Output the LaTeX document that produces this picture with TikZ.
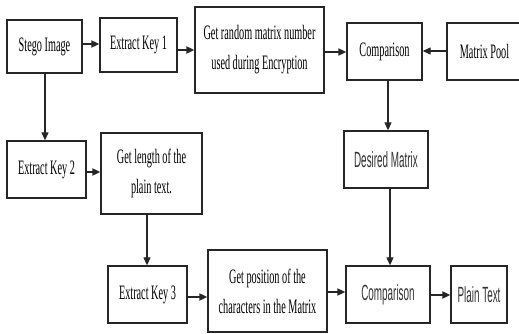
\documentclass[tikz,border=0pt]{standalone}
\usepackage{fontspec}
\usepackage{tikz}
\usetikzlibrary{arrows.meta, positioning}
\newfontfamily\boxserif[FakeStretch=0.5]{Liberation Serif}
\newfontfamily\boxsans[FakeStretch=0.45]{Liberation Sans}
\tikzset{
	stepbox/.style={rectangle, draw=black!85, line width=1.3pt, inner sep=0pt, align=center,
		font=\boxserif\fontsize{20.5}{30}\selectfont},
	sansbox/.style={stepbox, text=black!80, font=\boxsans\fontsize{22}{30}\selectfont},
	flow/.style={-{Triangle[length=8pt, width=7pt]}, line width=1.1pt, draw=black!85},
	flow thick/.style={flow, line width=1.8pt}
}
\begin{document}
\begin{tikzpicture}[x=1pt, y=-1pt]
		\useasboundingbox (0,0) rectangle (519,334);
		
		% Top row
		\node[stepbox, minimum width=75pt, minimum height=53pt] (Stego) at (44.5,46.5) {Stego Image};
		\node[stepbox, minimum width=77pt, minimum height=54pt] (Key1) at (138.5,45) {Extract Key 1};
		\node[stepbox, minimum width=129pt, minimum height=86pt] (Rand) at (259.5,50) {Get random matrix number\\used during Encryption};
		\node[stepbox, minimum width=75pt, minimum height=57pt] (Comp1) at (384.5,51.5) {Comparison};
		\node[stepbox, minimum width=75pt, minimum height=57pt] (Pool) at (484.5,51.5) {Matrix Pool};
		
		% Middle row
		\node[stepbox, minimum width=79pt, minimum height=57pt] (Key2) at (46.5,169.5) {Extract Key 2};
		\node[stepbox, minimum width=101pt, minimum height=81pt] (Len) at (151.5,173.5) {Get length of the\\plain text.};
		\node[sansbox, minimum width=84pt, minimum height=57pt] (Desired) at (386,159.5) {Desired Matrix};
		
		% Bottom row
		\node[stepbox, minimum width=79pt, minimum height=57pt] (Key3) at (147.5,294.5) {Extract Key 3};
		\node[stepbox, minimum width=119pt, minimum height=82pt] (Pos) at (267.5,291) {Get position of the\\characters in the Matrix};
		\node[sansbox, minimum width=84pt, minimum height=57pt] (Comp2) at (388,294.5) {Comparison};
		\node[sansbox, minimum width=56pt, minimum height=57pt] (Plain) at (479,294.5) {Plain Text};
		
		% Edges
		\draw[flow thick] (Stego.east |- 0,44) -- (Key1.west |- 0,44);      % Stego -> Key 1
		\draw[flow thick] (Key1.east |- 0,50) -- (Rand.west |- 0,50);       % Key 1 -> random matrix
		\draw[flow thick] (Rand.east |- 0,52) -- (Comp1.west |- 0,52);      % random matrix -> Comparison
		\draw[flow] (Pool.west |- 0,51) -- (Comp1.east |- 0,51);            % Pool -> Comparison
		\draw[flow] (Comp1.south -| 388,0) -- (Desired.north -| 388,0);     % Comparison -> Desired
		\draw[flow] (Desired.south -| 390,0) -- (Comp2.north -| 390,0);     % Desired -> Comparison
		
		\draw[flow] (Stego.south -| 45,0) -- (Key2.north -| 45,0);          % Stego -> Key 2
		\draw[flow thick] (Key2.east |- 0,172) -- (Len.west |- 0,172);      % Key 2 -> length
		\draw[flow] (Len.south -| 147,0) -- (Key3.north -| 147,0);          % length -> Key 3
		
		\draw[flow thick] (Key3.east |- 0,297) -- (Pos.west |- 0,297);      % Key 3 -> position
		\draw[flow thick] (Pos.east |- 0,292) -- (Comp2.west |- 0,292);     % position -> Comparison
		\draw[flow thick] (Comp2.east |- 0,295) -- (Plain.west |- 0,295);   % Comparison -> Plain Text
		
	\end{tikzpicture}
\end{document}
